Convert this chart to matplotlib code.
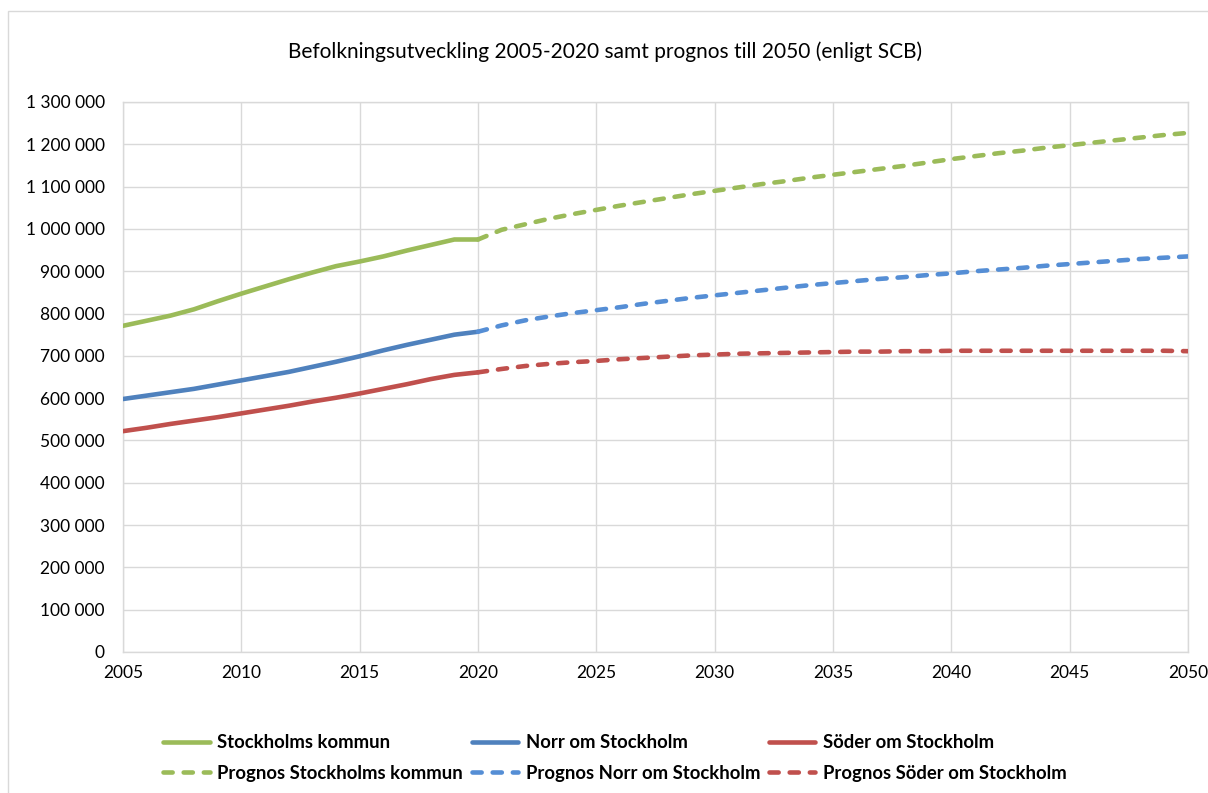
"""Befolkningsutveckling 2005-2020 samt prognos till 2050 (enligt SCB)."""
import matplotlib
matplotlib.use("Agg")
import matplotlib.pyplot as plt
from matplotlib.patches import Rectangle
from matplotlib.ticker import FuncFormatter

plt.rcParams["font.family"] = ["Lato", "DejaVu Sans"]

# Historical data, thousands of inhabitants
years_hist = list(range(2005, 2021))
sthlm_hist = [771, 783, 795, 810, 829, 847, 864, 881, 897, 912, 923, 935, 949, 962, 975, 975]
norr_hist = [598, 606, 614, 622, 632, 642, 652, 662, 674, 686, 699, 713, 726, 738, 750, 757]
soder_hist = [522, 530, 539, 547, 555, 564, 573, 582, 592, 601, 611, 622, 633, 645, 655, 661]

# Forecast (prognos), thousands
years_prog = list(range(2020, 2051))
sthlm_prog = [975, 998, 1011, 1024, 1035, 1045, 1055, 1064, 1073, 1082, 1090,
              1098, 1106, 1113, 1121, 1128, 1135, 1142, 1149, 1157, 1165,
              1172, 1179, 1185, 1192, 1198, 1204, 1210, 1216, 1222, 1227]
norr_prog = [757, 772, 784, 793, 801, 808, 815, 823, 830, 837, 843,
             849, 855, 861, 867, 872, 877, 882, 886, 891, 895,
             900, 904, 908, 913, 917, 921, 925, 929, 932, 935]
soder_prog = [661, 669, 676, 681, 685, 688, 692, 695, 698, 701, 703,
              705, 706, 707, 708, 709, 710, 710, 711, 711, 712,
              712, 712, 712, 712, 712, 712, 712, 712, 712, 711]

labels = ["Stockholms kommun", "Norr om Stockholm", "Söder om Stockholm"]
colors = ["#9BBB59", "#4F81BD", "#C0504D"]
prog_colors = ["#9BBB59", "#558ED5", "#C0504D"]

fig = plt.figure(figsize=(12.08, 7.93), dpi=100)
ax = fig.add_axes([123 / 1208, 1 - 652 / 793, (1188 - 123) / 1208, (652 - 102) / 793])

# outer chart border
fig.patches.append(Rectangle((8 / 1208, -0.01), 1.0, 1 - 11 / 793 + 0.01,
                             transform=fig.transFigure, fill=False,
                             edgecolor="#D9D9D9", linewidth=1.0))

hist = [sthlm_hist, norr_hist, soder_hist]
prog = [sthlm_prog, norr_prog, soder_prog]
handles = []
for i in range(3):
    h1, = ax.plot(years_hist, [v * 1000 for v in hist[i]], color=colors[i], lw=3.3,
                  solid_capstyle="round", solid_joinstyle="round", label=labels[i], zorder=3)
    h2, = ax.plot(years_prog, [v * 1000 for v in prog[i]], color=prog_colors[i], lw=3.3,
                  dashes=(2.0, 2.4), dash_capstyle="round", label="Prognos " + labels[i], zorder=3)
    handles += [h1, h2]

ax.set_xlim(2005, 2050)
ax.set_ylim(0, 1300000)
ax.set_xticks(range(2005, 2051, 5))
ax.set_yticks(range(0, 1300001, 100000))
ax.yaxis.set_major_formatter(FuncFormatter(lambda v, p: f"{int(v):,}".replace(",", " ")))
ax.grid(True, color="#D9D9D9", lw=1.0)
ax.set_axisbelow(True)
for s in ax.spines.values():
    s.set_color("#D9D9D9")
    s.set_linewidth(1.0)
ax.tick_params(length=0, labelsize=12.5, colors="#000000")
ax.tick_params(axis="y", pad=13)
ax.tick_params(axis="x", pad=9)

fig.text(605 / 1208, 1 - 52 / 793, "Befolkningsutveckling 2005-2020 samt prognos till 2050 (enligt SCB)",
         ha="center", va="center", fontsize=15)

fig.legend(handles=handles, loc="center", bbox_to_anchor=(615 / 1208, 1 - 758 / 793), ncol=3,
           frameon=False, prop={"weight": "bold", "size": 13.3}, handlelength=2.5,
           columnspacing=0.5, handletextpad=0.4, labelspacing=0.75)

fig.savefig("out.png", dpi=100)
